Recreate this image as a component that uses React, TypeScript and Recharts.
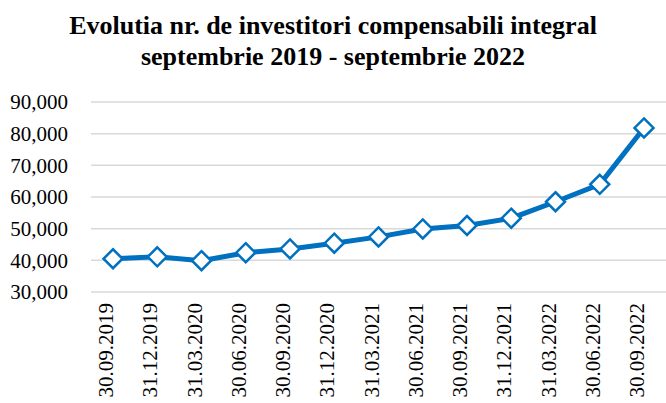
import { LineChart, Line, XAxis, YAxis, CartesianGrid } from "recharts";

const periods = [
  "30.09.2019",
  "31.12.2019",
  "31.03.2020",
  "30.06.2020",
  "30.09.2020",
  "31.12.2020",
  "31.03.2021",
  "30.06.2021",
  "30.09.2021",
  "31.12.2021",
  "31.03.2022",
  "30.06.2022",
  "30.09.2022",
];

const investors = [
  40500, 41100, 39900, 42400, 43600, 45400, 47400, 49900, 51000, 53300, 58500, 64000, 81800,
];

const yTicks = [30000, 40000, 50000, 60000, 70000, 80000, 90000];

const data = periods.map((p, i) => ({ period: p, value: investors[i] }));

const BLUE = "#0070C0";
const FONT = "Liberation Serif, DejaVu Serif, serif";

function Diamond(props: any) {
  const { cx, cy } = props;
  if (cx == null || cy == null) return null;
  const r = 9.5;
  return (
    <polygon
      points={`${cx},${cy - r} ${cx + r},${cy} ${cx},${cy + r} ${cx - r},${cy}`}
      fill="#fff"
      stroke={BLUE}
      strokeWidth={2.5}
    />
  );
}

function DateTick(props: any) {
  const { x, y, payload } = props;
  return (
    <text
      x={x}
      y={y}
      transform={`rotate(-90, ${x}, ${y})`}
      textAnchor="end"
      fill="#000"
      style={{ fontSize: 21, fontFamily: FONT }}
    >
      {payload.value}
    </text>
  );
}

export default function App() {
  return (
    <div style={{ position: "absolute", left: 0, top: 0, width: 666, height: 403, background: "#fff" }}>
      <div
        style={{
          position: "absolute",
          left: 0,
          top: 10,
          width: 666,
          textAlign: "center",
          fontFamily: FONT,
          fontWeight: "bold",
          fontSize: 26,
          lineHeight: "31px",
          color: "#000",
        }}
      >
        Evolutia nr. de investitori compensabili integral
        <br />
        septembrie 2019 - septembrie 2022
      </div>
      <LineChart
        width={666}
        height={403}
        data={data}
        margin={{ top: 102, right: 0, left: 0, bottom: 0 }}
        style={{ fontFamily: FONT }}
      >
        <CartesianGrid vertical={false} stroke="#d9d9d9" strokeWidth={1.5} />
        <XAxis
          dataKey="period"
          interval={0}
          axisLine={false}
          tickLine={false}
          height={111}
          tickMargin={5}
          padding={{ left: 22, right: 22 }}
          tick={<DateTick />}
        />
        <YAxis
          domain={[30000, 90000]}
          ticks={yTicks}
          width={91}
          axisLine={false}
          tickLine={false}
          tickMargin={17}
          tickFormatter={(v: number) => v.toLocaleString("en-US")}
          tick={{ fill: "#000", fontSize: 21, fontFamily: FONT }}
        />
        <Line
          type="linear"
          dataKey="value"
          stroke={BLUE}
          strokeWidth={5}
          dot={<Diamond />}
          activeDot={false}
          isAnimationActive={false}
        />
      </LineChart>
    </div>
  );
}
